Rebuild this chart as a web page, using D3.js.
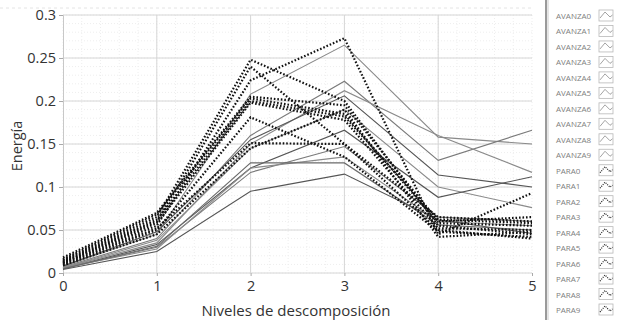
<!DOCTYPE html>
<html>
<head>
<meta charset="utf-8">
<script src="https://cdn.jsdelivr.net/npm/d3@7/dist/d3.min.js"></script>
<style>
  html, body { margin: 0; padding: 0; background: #fff; }
  svg { display: block; font-family: "Open Sans", "Noto Sans", sans-serif; }
</style>
</head>
<body>
<svg id="chart" width="618" height="320"></svg>
<script>
// Decomposition levels on the x axis
const levels = [0, 1, 2, 3, 4, 5];
const yTicks = [0, 0.05, 0.1, 0.15, 0.2, 0.25, 0.3];
const yTickLabels = ["0", "0.05", "0.1", "0.15", "0.2", "0.25", "0.3"];

// AVANZA series (solid lines)
const avanzaNames = ["AVANZA0","AVANZA1","AVANZA2","AVANZA3","AVANZA4","AVANZA5","AVANZA6","AVANZA7","AVANZA8","AVANZA9"];
const avanza0 = [0.008, 0.045, 0.208, 0.265, 0.158, 0.150];
const avanza1 = [0.007, 0.040, 0.160, 0.223, 0.131, 0.166];
const avanza2 = [0.006, 0.035, 0.150, 0.212, 0.160, 0.117];
const avanza3 = [0.008, 0.048, 0.155, 0.206, 0.114, 0.100];
const avanza4 = [0.006, 0.038, 0.145, 0.190, 0.100, 0.076];
const avanza5 = [0.005, 0.033, 0.122, 0.166, 0.088, 0.112];
const avanza6 = [0.005, 0.030, 0.117, 0.147, 0.065, 0.060];
const avanza7 = [0.006, 0.028, 0.122, 0.135, 0.060, 0.055];
const avanza8 = [0.005, 0.031, 0.128, 0.128, 0.056, 0.050];
const avanza9 = [0.004, 0.025, 0.095, 0.115, 0.062, 0.046];

// PARA series (dotted lines)
const paraNames = ["PARA0","PARA1","PARA2","PARA3","PARA4","PARA5","PARA6","PARA7","PARA8","PARA9"];
const para0 = [0.015, 0.065, 0.248, 0.200, 0.055, 0.045];
const para1 = [0.013, 0.060, 0.240, 0.150, 0.050, 0.040];
const para2 = [0.012, 0.055, 0.224, 0.273, 0.045, 0.093];
const para3 = [0.018, 0.070, 0.205, 0.195, 0.060, 0.065];
const para4 = [0.016, 0.068, 0.203, 0.185, 0.058, 0.055];
const para5 = [0.014, 0.062, 0.200, 0.182, 0.062, 0.058];
const para6 = [0.012, 0.058, 0.198, 0.178, 0.052, 0.050];
const para7 = [0.010, 0.050, 0.181, 0.135, 0.048, 0.042];
const para8 = [0.011, 0.052, 0.151, 0.150, 0.065, 0.060];
const para9 = [0.009, 0.045, 0.145, 0.190, 0.042, 0.048];

const avanzaValues = [avanza0, avanza1, avanza2, avanza3, avanza4, avanza5, avanza6, avanza7, avanza8, avanza9];
const paraValues = [para0, para1, para2, para3, para4, para5, para6, para7, para8, para9];
const avanzaColors = ["#8a8a8a","#7a7a7a","#8a8a8a","#555","#8a8a8a","#555","#7a7a7a","#8a8a8a","#6a6a6a","#555"];

const svg = d3.select("#chart");
const plot = { left: 63, right: 532, top: 15, bottom: 273 };

const x = d3.scaleLinear().domain([0, 5]).range([plot.left, plot.right]);
const y = d3.scaleLinear().domain([0, 0.3]).range([plot.bottom, plot.top]);

// Minor grid
const minorX = d3.range(0, 5.001, 0.2);
const minorY = d3.range(0, 0.3001, 0.01);
svg.append("g").selectAll("line").data(minorX).join("line")
  .attr("x1", d => x(d)).attr("x2", d => x(d))
  .attr("y1", plot.top).attr("y2", plot.bottom)
  .attr("stroke", "#eeeeee").attr("stroke-dasharray", "1,2");
svg.append("g").selectAll("line").data(minorY).join("line")
  .attr("x1", plot.left).attr("x2", plot.right)
  .attr("y1", d => y(d)).attr("y2", d => y(d))
  .attr("stroke", "#eeeeee").attr("stroke-dasharray", "1,2");

// Faint dashed frame line above the plot
svg.append("line")
  .attr("x1", 0).attr("x2", plot.right).attr("y1", 8).attr("y2", 8)
  .attr("stroke", "#e4e4e4").attr("stroke-dasharray", "3,3");

// Major grid
svg.append("g").selectAll("line").data(levels.slice(1, 5)).join("line")
  .attr("x1", d => x(d)).attr("x2", d => x(d))
  .attr("y1", plot.top).attr("y2", plot.bottom)
  .attr("stroke", "#d6d6d6");
svg.append("g").selectAll("line").data(yTicks).join("line")
  .attr("x1", plot.left).attr("x2", plot.right)
  .attr("y1", d => y(d)).attr("y2", d => y(d))
  .attr("stroke", "#d6d6d6");

// Axes
const yAxis = d3.axisLeft(y).tickValues(yTicks)
  .tickFormat((d, i) => yTickLabels[i]).tickSize(4).tickPadding(3);
const gy = svg.append("g").attr("transform", `translate(${plot.left},0)`).call(yAxis);
gy.select(".domain").attr("stroke", "#c8c8c8");
gy.selectAll(".tick line").attr("stroke", "#aaa");
gy.selectAll(".tick text").attr("fill", "#333").style("font-size", "14.5px")
  .style("font-family", "'Open Sans', sans-serif");

const xAxis = d3.axisBottom(x).tickValues(levels).tickFormat(d3.format("d"))
  .tickSize(3).tickPadding(5);
const gx = svg.append("g").attr("transform", `translate(0,${plot.bottom})`).call(xAxis);
gx.select(".domain").remove();
gx.selectAll(".tick line").attr("stroke", "#aaa");
gx.selectAll(".tick text").attr("fill", "#333").style("font-size", "14.5px")
  .style("font-family", "'Open Sans', sans-serif");

// Axis titles
svg.append("text")
  .attr("x", 296).attr("y", 316).attr("text-anchor", "middle")
  .attr("fill", "#333").style("font-size", "15px")
  .text("Niveles de descomposición");
svg.append("text")
  .attr("transform", "translate(22,146) rotate(-90)")
  .attr("text-anchor", "middle")
  .attr("fill", "#333").style("font-size", "14.5px")
  .text("Energía");

// Lines
const line = d3.line().x((d, i) => x(levels[i])).y(d => y(d));

svg.append("g").selectAll("path").data(avanzaValues).join("path")
  .attr("d", line)
  .attr("fill", "none")
  .attr("stroke", (d, i) => avanzaColors[i])
  .attr("stroke-width", 1.1);

svg.append("g").selectAll("path").data(paraValues).join("path")
  .attr("d", line)
  .attr("fill", "none")
  .attr("stroke", "#111")
  .attr("stroke-width", 2.2)
  .attr("stroke-dasharray", "1.6,1.9");

// Legend panel
const legendX = 546;
svg.append("rect").attr("x", legendX).attr("y", 0).attr("width", 618 - legendX).attr("height", 320)
  .attr("fill", "#fff");
svg.append("line").attr("x1", legendX).attr("x2", legendX).attr("y1", 0).attr("y2", 320)
  .attr("stroke", "#9a9a9a").attr("stroke-width", 2);
svg.append("line").attr("x1", legendX + 2).attr("x2", legendX + 2).attr("y1", 0).attr("y2", 320)
  .attr("stroke", "#dcdcdc").attr("stroke-width", 1.5);

const legendItems = avanzaNames.map(n => ({ name: n, dotted: false }))
  .concat(paraNames.map(n => ({ name: n, dotted: true })));
const legendY = d3.scalePoint().domain(legendItems.map(d => d.name)).range([16, 310]);

const lg = svg.append("g").selectAll("g").data(legendItems).join("g")
  .attr("transform", d => `translate(0,${legendY(d.name)})`);
lg.append("text")
  .attr("x", 556).attr("y", 3)
  .attr("fill", "#808080").style("font-size", "8px")
  .text(d => d.name);
lg.append("rect")
  .attr("x", 599).attr("y", -6).attr("width", 14).attr("height", 11)
  .attr("fill", "#fff").attr("stroke", "#b8b8b8").attr("stroke-width", 0.8);
const iconLine = d3.line();
lg.append("path")
  .attr("d", iconLine([[600, 2], [605, -4], [610, 1], [612.5, -1]]))
  .attr("fill", "none")
  .attr("stroke", d => d.dotted ? "#222" : "#999")
  .attr("stroke-width", d => d.dotted ? 1.2 : 0.9)
  .attr("stroke-dasharray", d => d.dotted ? "1,1.2" : null);
</script>
</body>
</html>
